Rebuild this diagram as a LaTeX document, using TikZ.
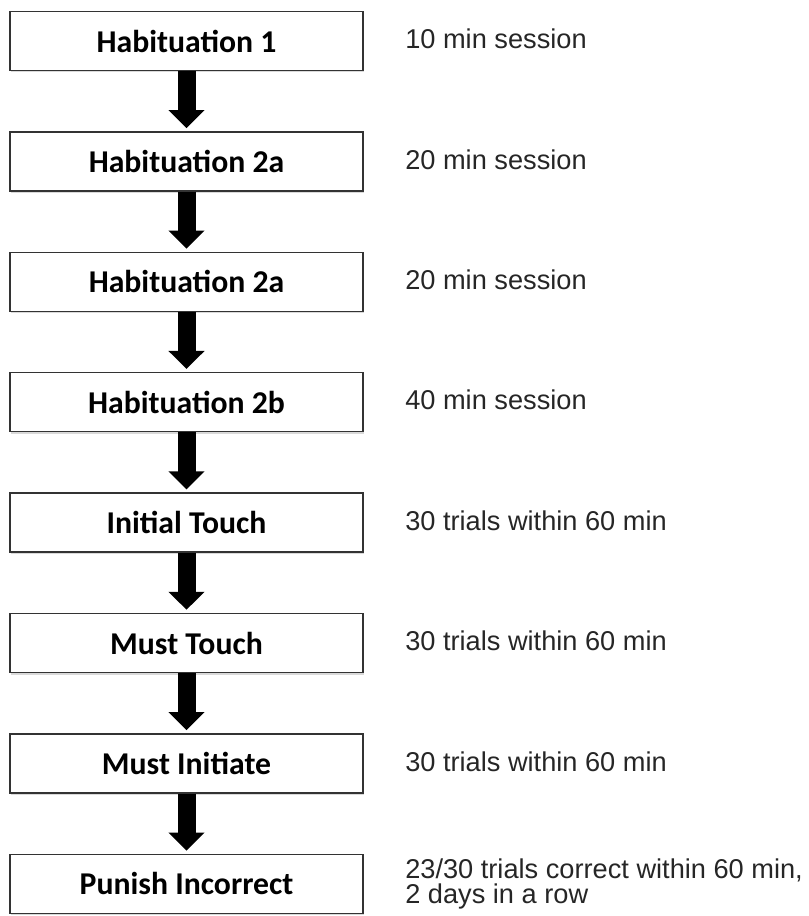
\documentclass[tikz,border=0pt]{standalone}
\usepackage{fontspec}
\setmainfont{Liberation Sans}
\newfontfamily\stagefont{Carlito}
\usetikzlibrary{arrows.meta,shadows}

\begin{document}
\begin{tikzpicture}[x=0.75pt,y=-0.75pt,line join=miter,
  stage/.style={draw=black!80,line width=1.1pt,fill=white,minimum width=264.75pt,minimum height=44.25pt,inner sep=0pt,
    text depth=0pt,font=\stagefont\bfseries\fontsize{23.8}{28}\selectfont,
    drop shadow={shadow xshift=1pt,shadow yshift=-1.5pt,opacity=0.3}},
  crit/.style={anchor=west,inner sep=0pt,align=left,text=black!85,font=\fontsize{20.4}{19}\selectfont},
  flow/.style={line width=13.5pt,-{Triangle[width=26.25pt,length=13.5pt]},shorten >=2.25pt}]
  \useasboundingbox (0,0) rectangle (809,916);
  % Trainingsstufen
  \node[stage] (hab1)   at (186.5,41)    {Habituation 1};
  \node[stage] (hab2a)  at (186.5,161.4) {Habituation 2a};
  \node[stage] (hab2a') at (186.5,281.8) {Habituation 2a};
  \node[stage] (hab2b)  at (186.5,402.2) {Habituation 2b};
  \node[stage] (init)   at (186.5,522.6) {Initial Touch};
  \node[stage] (must)   at (186.5,643)   {Must Touch};
  \node[stage] (mini)   at (186.5,763.4) {Must Initiate};
  \node[stage] (pun)    at (186.5,883.8) {Punish Incorrect};
  % Kriterien rechts
  \node[crit] (c1) at (405,39)    {10 min session};
  \node[crit] (c2) at (405,159.4) {20 min session};
  \node[crit] (c3) at (405,279.8) {20 min session};
  \node[crit] (c4) at (405,400.2) {40 min session};
  \node[crit] (c5) at (405,520.6) {30 trials within 60 min};
  \node[crit] (c6) at (405,641)   {30 trials within 60 min};
  \node[crit] (c7) at (405,761.4) {30 trials within 60 min};
  \node[crit] (c8) at (405,883.8) {23/30 trials correct within 60 min,\\2 days in a row};
  % Pfeile
  \draw[flow] (hab1.south)   -- (hab2a.north);
  \draw[flow] (hab2a.south)  -- (hab2a'.north);
  \draw[flow] (hab2a'.south) -- (hab2b.north);
  \draw[flow] (hab2b.south)  -- (init.north);
  \draw[flow] (init.south)   -- (must.north);
  \draw[flow] (must.south)   -- (mini.north);
  \draw[flow] (mini.south)   -- (pun.north);
\end{tikzpicture}
\end{document}
